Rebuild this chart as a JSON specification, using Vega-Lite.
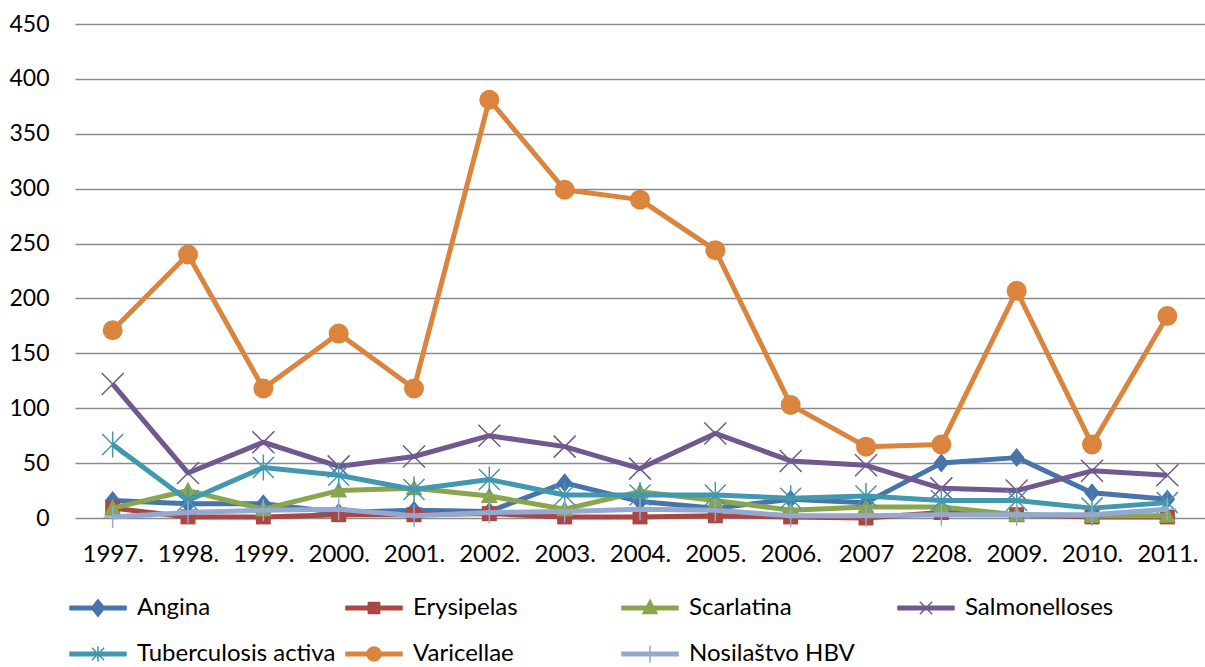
{
  "$schema": "https://vega.github.io/schema/vega-lite/v6.json",
  "width": 1130,
  "height": 494,
  "autosize": {"type": "none"},
  "padding": {"left": 75, "top": 24, "right": 0, "bottom": 149},
  "background": "white",
  "config": {
    "view": {"stroke": null},
    "font": "Lato",
    "axis": {"labelFont": "Lato", "labelColor": "black", "title": null}
  },
  "data": {
    "values": [
      {"series": "Angina", "year": "1997.", "value": 16},
      {"series": "Angina", "year": "1998.", "value": 13},
      {"series": "Angina", "year": "1999.", "value": 13},
      {"series": "Angina", "year": "2000.", "value": 5},
      {"series": "Angina", "year": "2001.", "value": 7},
      {"series": "Angina", "year": "2002.", "value": 6},
      {"series": "Angina", "year": "2003.", "value": 32},
      {"series": "Angina", "year": "2004.", "value": 15},
      {"series": "Angina", "year": "2005.", "value": 9},
      {"series": "Angina", "year": "2006.", "value": 17},
      {"series": "Angina", "year": "2007", "value": 14},
      {"series": "Angina", "year": "2208.", "value": 50},
      {"series": "Angina", "year": "2009.", "value": 55},
      {"series": "Angina", "year": "2010.", "value": 23},
      {"series": "Angina", "year": "2011.", "value": 17},

      {"series": "Erysipelas", "year": "1997.", "value": 9},
      {"series": "Erysipelas", "year": "1998.", "value": 1},
      {"series": "Erysipelas", "year": "1999.", "value": 1},
      {"series": "Erysipelas", "year": "2000.", "value": 3},
      {"series": "Erysipelas", "year": "2001.", "value": 3},
      {"series": "Erysipelas", "year": "2002.", "value": 4},
      {"series": "Erysipelas", "year": "2003.", "value": 1},
      {"series": "Erysipelas", "year": "2004.", "value": 1},
      {"series": "Erysipelas", "year": "2005.", "value": 2},
      {"series": "Erysipelas", "year": "2006.", "value": 1},
      {"series": "Erysipelas", "year": "2007", "value": 0},
      {"series": "Erysipelas", "year": "2208.", "value": 5},
      {"series": "Erysipelas", "year": "2009.", "value": 3},
      {"series": "Erysipelas", "year": "2010.", "value": 1},
      {"series": "Erysipelas", "year": "2011.", "value": 1},

      {"series": "Scarlatina", "year": "1997.", "value": 9},
      {"series": "Scarlatina", "year": "1998.", "value": 25},
      {"series": "Scarlatina", "year": "1999.", "value": 8},
      {"series": "Scarlatina", "year": "2000.", "value": 25},
      {"series": "Scarlatina", "year": "2001.", "value": 27},
      {"series": "Scarlatina", "year": "2002.", "value": 20},
      {"series": "Scarlatina", "year": "2003.", "value": 8},
      {"series": "Scarlatina", "year": "2004.", "value": 24},
      {"series": "Scarlatina", "year": "2005.", "value": 16},
      {"series": "Scarlatina", "year": "2006.", "value": 7},
      {"series": "Scarlatina", "year": "2007", "value": 10},
      {"series": "Scarlatina", "year": "2208.", "value": 10},
      {"series": "Scarlatina", "year": "2009.", "value": 3},
      {"series": "Scarlatina", "year": "2010.", "value": 2},
      {"series": "Scarlatina", "year": "2011.", "value": 2},

      {"series": "Salmonelloses", "year": "1997.", "value": 122},
      {"series": "Salmonelloses", "year": "1998.", "value": 41},
      {"series": "Salmonelloses", "year": "1999.", "value": 69},
      {"series": "Salmonelloses", "year": "2000.", "value": 47},
      {"series": "Salmonelloses", "year": "2001.", "value": 56},
      {"series": "Salmonelloses", "year": "2002.", "value": 75},
      {"series": "Salmonelloses", "year": "2003.", "value": 65},
      {"series": "Salmonelloses", "year": "2004.", "value": 45},
      {"series": "Salmonelloses", "year": "2005.", "value": 77},
      {"series": "Salmonelloses", "year": "2006.", "value": 52},
      {"series": "Salmonelloses", "year": "2007", "value": 48},
      {"series": "Salmonelloses", "year": "2208.", "value": 27},
      {"series": "Salmonelloses", "year": "2009.", "value": 25},
      {"series": "Salmonelloses", "year": "2010.", "value": 43},
      {"series": "Salmonelloses", "year": "2011.", "value": 39},

      {"series": "Tuberculosis activa", "year": "1997.", "value": 67},
      {"series": "Tuberculosis activa", "year": "1998.", "value": 16},
      {"series": "Tuberculosis activa", "year": "1999.", "value": 46},
      {"series": "Tuberculosis activa", "year": "2000.", "value": 39},
      {"series": "Tuberculosis activa", "year": "2001.", "value": 26},
      {"series": "Tuberculosis activa", "year": "2002.", "value": 35},
      {"series": "Tuberculosis activa", "year": "2003.", "value": 21},
      {"series": "Tuberculosis activa", "year": "2004.", "value": 21},
      {"series": "Tuberculosis activa", "year": "2005.", "value": 21},
      {"series": "Tuberculosis activa", "year": "2006.", "value": 18},
      {"series": "Tuberculosis activa", "year": "2007", "value": 20},
      {"series": "Tuberculosis activa", "year": "2208.", "value": 16},
      {"series": "Tuberculosis activa", "year": "2009.", "value": 16},
      {"series": "Tuberculosis activa", "year": "2010.", "value": 9},
      {"series": "Tuberculosis activa", "year": "2011.", "value": 14},

      {"series": "Varicellae", "year": "1997.", "value": 171},
      {"series": "Varicellae", "year": "1998.", "value": 240},
      {"series": "Varicellae", "year": "1999.", "value": 118},
      {"series": "Varicellae", "year": "2000.", "value": 168},
      {"series": "Varicellae", "year": "2001.", "value": 118},
      {"series": "Varicellae", "year": "2002.", "value": 381},
      {"series": "Varicellae", "year": "2003.", "value": 299},
      {"series": "Varicellae", "year": "2004.", "value": 290},
      {"series": "Varicellae", "year": "2005.", "value": 244},
      {"series": "Varicellae", "year": "2006.", "value": 103},
      {"series": "Varicellae", "year": "2007", "value": 65},
      {"series": "Varicellae", "year": "2208.", "value": 67},
      {"series": "Varicellae", "year": "2009.", "value": 207},
      {"series": "Varicellae", "year": "2010.", "value": 67},
      {"series": "Varicellae", "year": "2011.", "value": 184},

      {"series": "Nosilaštvo HBV", "year": "1997.", "value": 1},
      {"series": "Nosilaštvo HBV", "year": "1998.", "value": 5},
      {"series": "Nosilaštvo HBV", "year": "1999.", "value": 7},
      {"series": "Nosilaštvo HBV", "year": "2000.", "value": 8},
      {"series": "Nosilaštvo HBV", "year": "2001.", "value": 2},
      {"series": "Nosilaštvo HBV", "year": "2002.", "value": 5},
      {"series": "Nosilaštvo HBV", "year": "2003.", "value": 6},
      {"series": "Nosilaštvo HBV", "year": "2004.", "value": 8},
      {"series": "Nosilaštvo HBV", "year": "2005.", "value": 7},
      {"series": "Nosilaštvo HBV", "year": "2006.", "value": 2},
      {"series": "Nosilaštvo HBV", "year": "2007", "value": 2},
      {"series": "Nosilaštvo HBV", "year": "2208.", "value": 3},
      {"series": "Nosilaštvo HBV", "year": "2009.", "value": 3},
      {"series": "Nosilaštvo HBV", "year": "2010.", "value": 3},
      {"series": "Nosilaštvo HBV", "year": "2011.", "value": 8}
    ]
  },
  "encoding": {
    "x": {
      "field": "year",
      "type": "ordinal",
      "sort": null,
      "axis": {
        "labelAngle": 0,
        "labelFontSize": 24,
        "labelPadding": 24,
        "ticks": false,
        "tickSize": 0,
        "domain": false,
        "grid": false
      }
    },
    "y": {
      "field": "value",
      "type": "quantitative",
      "scale": {"domain": [0, 450], "nice": false},
      "axis": {
        "values": [0, 50, 100, 150, 200, 250, 300, 350, 400, 450],
        "labelFontSize": 23,
        "labelPadding": 26,
        "ticks": false,
        "tickSize": 0,
        "domain": false,
        "grid": true,
        "gridColor": "#8a8a8a",
        "gridWidth": 1.5
      }
    },
    "color": {
      "field": "series",
      "type": "nominal",
      "scale": {
        "domain": ["Angina", "Erysipelas", "Scarlatina", "Salmonelloses", "Tuberculosis activa", "Varicellae", "Nosilaštvo HBV"],
        "range": ["#4674AB", "#AA4644", "#89A54E", "#71588F", "#4198AF", "#DB843D", "#93A9CF"]
      },
      "legend": {
        "orient": "none",
        "legendX": -6,
        "legendY": 555,
        "columns": 4,
        "direction": "horizontal",
        "gridAlign": "all",
        "title": null,
        "padding": 0,
        "labelFont": "Lato",
        "labelFontSize": 24,
        "labelColor": "black",
        "labelLimit": 400,
        "labelOffset": 10,
        "columnPadding": 7,
        "rowPadding": 5,
        "symbolSize": 3136,
        "symbolStrokeWidth": 1.5,
        "encode": {
          "symbols": {
            "update": {
              "shape": {"signal": "datum.value === 'Angina' ? 'M-1,-0.06L1,-0.06L1,0.06L-1,0.06Z M0,-0.3L0.24,0L0,0.3L-0.24,0Z' : datum.value === 'Erysipelas' ? 'M-1,-0.06L1,-0.06L1,0.06L-1,0.06Z M-0.2,-0.2L0.2,-0.2L0.2,0.2L-0.2,0.2Z' : datum.value === 'Scarlatina' ? 'M-1,-0.06L1,-0.06L1,0.06L-1,0.06Z M0,-0.28L0.25,0.2L-0.25,0.2Z' : datum.value === 'Salmonelloses' ? 'M-1,-0.06L1,-0.06L1,0.06L-1,0.06Z M-0.22,-0.22L0.22,0.22M-0.22,0.22L0.22,-0.22' : datum.value === 'Tuberculosis activa' ? 'M-1,-0.06L1,-0.06L1,0.06L-1,0.06Z M-0.22,-0.22L0.22,0.22M-0.22,0.22L0.22,-0.22M0,-0.28L0,0.28' : datum.value === 'Varicellae' ? 'M-1,-0.06L1,-0.06L1,0.06L-1,0.06Z M0.25,0A0.25,0.25 0 1,1 -0.25,0A0.25,0.25 0 1,1 0.25,0Z' : 'M-1,-0.06L1,-0.06L1,0.06L-1,0.06Z M0,-0.3L0,0.3'"},
              "size": {"value": 3136},
              "fill": {"scale": "color", "field": "value"},
              "stroke": {"scale": "color", "field": "value"},
              "strokeWidth": {"value": 1.5},
              "opacity": {"value": 1},
              "fillOpacity": {"value": 1},
              "strokeOpacity": {"value": 1}
            }
          }
        }
      }
    }
  },
  "layer": [
    {"transform": [{"filter": "datum.series === 'Angina'"}], "mark": {"type": "line", "strokeWidth": 5, "strokeJoin": "round"}},
    {"transform": [{"filter": "datum.series === 'Angina'"}], "mark": {"type": "point", "filled": true, "opacity": 1, "size": 400, "shape": "M0,-0.95L0.78,0L0,0.95L-0.78,0Z"}},
    {"transform": [{"filter": "datum.series === 'Erysipelas'"}], "mark": {"type": "line", "strokeWidth": 5, "strokeJoin": "round"}},
    {"transform": [{"filter": "datum.series === 'Erysipelas'"}], "mark": {"type": "point", "filled": true, "opacity": 1, "size": 400, "shape": "M-0.75,-0.75L0.75,-0.75L0.75,0.75L-0.75,0.75Z"}},
    {"transform": [{"filter": "datum.series === 'Scarlatina'"}], "mark": {"type": "line", "strokeWidth": 5, "strokeJoin": "round"}},
    {"transform": [{"filter": "datum.series === 'Scarlatina'"}], "mark": {"type": "point", "filled": true, "opacity": 1, "size": 400, "shape": "M0,-0.9L0.85,0.7L-0.85,0.7Z"}},
    {"transform": [{"filter": "datum.series === 'Salmonelloses'"}], "mark": {"type": "line", "strokeWidth": 5, "strokeJoin": "round"}},
    {"transform": [{"filter": "datum.series === 'Salmonelloses'"}], "mark": {"type": "point", "filled": false, "opacity": 1, "size": 400, "strokeWidth": 1.5, "shape": "M-1.1,-1.1L1.1,1.1M-1.1,1.1L1.1,-1.1"}},
    {"transform": [{"filter": "datum.series === 'Tuberculosis activa'"}], "mark": {"type": "line", "strokeWidth": 5, "strokeJoin": "round"}},
    {"transform": [{"filter": "datum.series === 'Tuberculosis activa'"}], "mark": {"type": "point", "filled": false, "opacity": 1, "size": 400, "strokeWidth": 1.5, "shape": "M-1.05,-1.05L1.05,1.05M-1.05,1.05L1.05,-1.05M0,-1.3L0,1.3"}},
    {"transform": [{"filter": "datum.series === 'Varicellae'"}], "mark": {"type": "line", "strokeWidth": 5, "strokeJoin": "round"}},
    {"transform": [{"filter": "datum.series === 'Varicellae'"}], "mark": {"type": "point", "filled": true, "opacity": 1, "size": 400, "shape": "circle"}},
    {"transform": [{"filter": "datum.series === 'Nosilaštvo HBV'"}], "mark": {"type": "line", "strokeWidth": 5, "strokeJoin": "round"}},
    {"transform": [{"filter": "datum.series === 'Nosilaštvo HBV'"}], "mark": {"type": "point", "filled": false, "opacity": 1, "size": 400, "strokeWidth": 1.5, "shape": "M-0.9,0L0.9,0M0,-1.1L0,1.1"}}
  ]
}
